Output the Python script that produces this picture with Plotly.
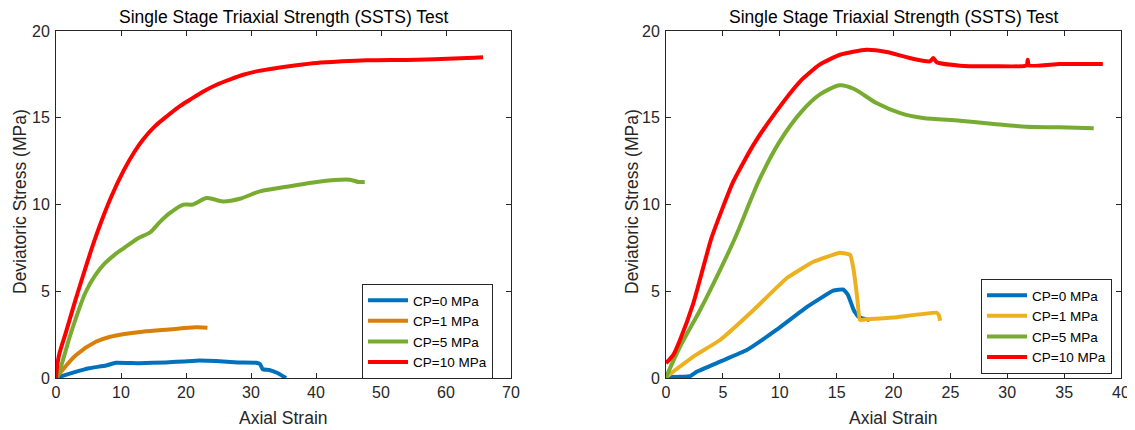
import plotly.graph_objects as go

# ---------------- data (left panel) ----------------
L_cp0_x = [0, 1.0, 3.0, 5.1, 7.7, 9.2, 12.8, 16.9, 21.5, 24.6, 28.0, 30.8, 31.4, 31.8, 32.8, 34.0, 35.4]
L_cp0_y = [0, 0.12, 0.35, 0.56, 0.72, 0.88, 0.85, 0.90, 1.00, 0.98, 0.90, 0.88, 0.80, 0.50, 0.46, 0.30, 0.0]

L_cp1_x = [0, 1.0, 3.1, 6.2, 8.2, 10.3, 13.3, 17.4, 21.5, 23.3]
L_cp1_y = [0, 0.46, 1.33, 2.10, 2.36, 2.52, 2.67, 2.80, 2.92, 2.90]

L_cp5_x = [0, 0.4, 2.3, 4.5, 6.0, 7.5, 9.0, 10.5, 12.7, 14.5, 16.0, 17.5, 19.6, 21.0, 23.2, 25.7, 28.3, 31.4, 36.0, 40.1, 45.2, 46.5, 47.5]
L_cp5_y = [0, 0.25, 2.6, 4.9, 5.9, 6.6, 7.1, 7.5, 8.07, 8.4, 9.0, 9.5, 9.99, 10.0, 10.37, 10.18, 10.33, 10.76, 11.05, 11.3, 11.43, 11.3, 11.3]

L_cp10_x = [0, 0.4, 1.5, 3.0, 4.5, 5.8, 7.0, 8.5, 10.4, 12.0, 13.4, 15.2, 17.0, 18.8, 20.6, 22.6, 24.7, 26.7, 28.8, 31.2, 33.95, 37.0, 40.1, 44.0, 47.8, 55.5, 63.2, 65.7]
L_cp10_y = [0, 1.2, 2.6, 4.5, 6.3, 7.8, 9.05, 10.45, 11.95, 13.0, 13.75, 14.5, 15.07, 15.6, 16.04, 16.5, 16.9, 17.2, 17.48, 17.7, 17.87, 18.03, 18.16, 18.25, 18.31, 18.35, 18.44, 18.48]

# ---------------- data (right panel) ----------------
R_cp0_x = [0, 2.1, 2.7, 4.75, 7.1, 9.7, 12.4, 14.7, 15.6, 16.0, 16.5, 16.9, 17.9]
R_cp0_y = [0.05, 0.10, 0.36, 0.94, 1.61, 2.77, 4.10, 5.03, 5.10, 4.78, 3.92, 3.53, 3.34]

R_cp1_x = [0, 2.4, 4.75, 7.7, 10.6, 12.95, 15.3, 16.2, 16.5, 16.8, 17.05, 17.6, 20.0, 23.8, 24.0, 24.1]
R_cp1_y = [0.05, 1.23, 2.19, 3.92, 5.75, 6.70, 7.22, 7.09, 6.22, 4.69, 3.34, 3.38, 3.48, 3.76, 3.60, 3.30]

R_cp5_x = [0, 1.23, 3.0, 4.75, 6.07, 8.26, 10.0, 11.8, 13.5, 15.3, 16.5, 18.5, 20.6, 22.6, 25.85, 28.8, 31.7, 34.6, 37.6]
R_cp5_y = [0.05, 1.8, 3.92, 6.22, 8.07, 11.5, 13.64, 15.27, 16.33, 16.87, 16.67, 15.85, 15.27, 14.99, 14.83, 14.64, 14.48, 14.45, 14.39]

R_cp10_x = [0, 0.64, 1.23, 2.4, 4.0, 5.9, 7.7, 9.7, 11.8, 13.5, 15.3, 17.6, 19.4, 21.45, 23.2, 23.5, 23.8, 25.85, 28.8, 31.7, 31.8, 31.9, 34.6, 38.4]
R_cp10_y = [0.85, 1.33, 2.19, 4.3, 8.07, 11.3, 13.45, 15.37, 17.1, 18.06, 18.63, 18.92, 18.79, 18.44, 18.25, 18.45, 18.2, 18.0, 17.97, 18.02, 18.35, 18.02, 18.1, 18.1]

names = ["CP=0 MPa", "CP=1 MPa", "CP=5 MPa", "CP=10 MPa"]
left_colors = ["#0072BD", "#D97F0B", "#77AC30", "#FF0000"]
right_colors = ["#0072BD", "#EDB120", "#77AC30", "#FF0000"]
left_smooth = [0.3, 1.0, 0.8, 1.0]
right_smooth = [0.3, 0.3, 0.8, 0.5]

title_text = "Single Stage Triaxial Strength (SSTS) Test"
xlabel = "Axial Strain"
ylabel = "Deviatoric Stress (MPa)"

W, H = 1135, 430
OFF = 8  # page body margin offset
FONT = "Liberation Sans, Arial, sans-serif"
AX = "#262626"

fig = go.Figure()

left = [(L_cp0_x, L_cp0_y), (L_cp1_x, L_cp1_y), (L_cp5_x, L_cp5_y), (L_cp10_x, L_cp10_y)]
right = [(R_cp0_x, R_cp0_y), (R_cp1_x, R_cp1_y), (R_cp5_x, R_cp5_y), (R_cp10_x, R_cp10_y)]

for (x, y), n, c, s in zip(left, names, left_colors, left_smooth):
    fig.add_trace(go.Scatter(x=x, y=y, mode="lines", name=n, xaxis="x", yaxis="y",
                             line=dict(color=c, width=4, shape="spline", smoothing=s),
                             legend="legend"))
for (x, y), n, c, s in zip(right, names, right_colors, right_smooth):
    fig.add_trace(go.Scatter(x=x, y=y, mode="lines", name=n, xaxis="x2", yaxis="y2",
                             line=dict(color=c, width=4, shape="spline", smoothing=s),
                             legend="legend2"))

# pixel geometry (viewport pixels) of the two axes boxes
Lx0, Lx1 = 56, 511
Rx0, Rx1 = 666, 1121
Ytop, Ybot = 31, 378

def px(v):
    return (v - OFF) / W

def py(v):
    return 1 - (v - OFF) / H

axis_common = dict(showline=True, linecolor=AX, linewidth=1, mirror="ticks",
                   ticks="inside", ticklen=5, tickcolor=AX, tickwidth=1,
                   showgrid=False, zeroline=False, automargin=False,
                   tickfont=dict(family=FONT, size=16, color=AX))

fig.update_layout(
    width=W, height=H,
    margin=dict(l=0, r=0, t=0, b=0, autoexpand=False),
    paper_bgcolor="white", plot_bgcolor="white",
    font=dict(family=FONT, color=AX),
    xaxis=dict(domain=[px(Lx0), px(Lx1)], range=[0, 70], tickvals=[0, 10, 20, 30, 40, 50, 60, 70],
               anchor="y", **axis_common),
    yaxis=dict(domain=[py(Ybot), py(Ytop)], range=[0, 20], tickvals=[0, 5, 10, 15, 20],
               anchor="x", ticklabelstandoff=2, **axis_common),
    xaxis2=dict(domain=[px(Rx0), px(Rx1)], range=[0, 40], tickvals=[0, 5, 10, 15, 20, 25, 30, 35, 40],
                anchor="y2", **axis_common),
    yaxis2=dict(domain=[py(Ybot), py(Ytop)], range=[0, 20], tickvals=[0, 5, 10, 15, 20],
                anchor="x2", ticklabelstandoff=2, **axis_common),
    legend=dict(x=px(362), y=py(284), xanchor="left", yanchor="top",
                bgcolor="white", bordercolor=AX, borderwidth=1,
                font=dict(family=FONT, size=13.5, color="black"), itemwidth=40,
                tracegroupgap=0),
    legend2=dict(x=px(981), y=py(279), xanchor="left", yanchor="top",
                 bgcolor="white", bordercolor=AX, borderwidth=1,
                 font=dict(family=FONT, size=13.5, color="black"), itemwidth=40,
                 tracegroupgap=0),
    showlegend=True,
)

annots = []
for cx0, cx1 in [(Lx0, Lx1), (Rx0, Rx1)]:
    cx = (cx0 + cx1) / 2
    annots.append(dict(text=title_text, x=px(cx), y=py(17), xref="paper", yref="paper",
                       xanchor="center", yanchor="middle", showarrow=False,
                       font=dict(family=FONT, size=17.5, color="black")))
    annots.append(dict(text=xlabel, x=px(cx), y=py(418), xref="paper", yref="paper",
                       xanchor="center", yanchor="middle", showarrow=False,
                       font=dict(family=FONT, size=17.5, color=AX)))
annots.append(dict(text=ylabel, x=px(20), y=py(202), xref="paper", yref="paper",
                   xanchor="center", yanchor="middle", showarrow=False, textangle=-90,
                   font=dict(family=FONT, size=17.5, color=AX)))
annots.append(dict(text=ylabel, x=px(632), y=py(202), xref="paper", yref="paper",
                   xanchor="center", yanchor="middle", showarrow=False, textangle=-90,
                   font=dict(family=FONT, size=17.5, color=AX)))
fig.update_layout(annotations=annots)

fig.write_html("out.html")
